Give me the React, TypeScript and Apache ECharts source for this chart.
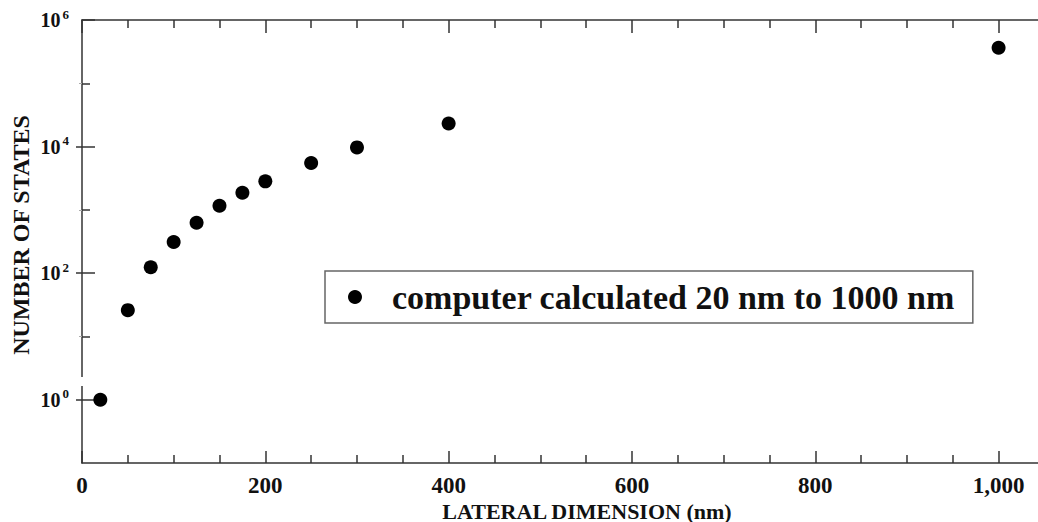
import React, { useEffect, useRef } from "react";
import * as echarts from "echarts";

const lateralNm = [20, 50, 75, 100, 125, 150, 175, 200, 250, 300, 400, 1000];
const numberOfStates = [1, 26, 124, 310, 625, 1160, 1860, 2820, 5500, 9700, 23200, 364000];
const xMajorTicks = [0, 200, 400, 600, 800, 1000];
const xMinorTicks = [50, 100, 150, 250, 300, 350, 450, 500, 550, 650, 700, 750, 850, 900, 950];
const yMajorTicks = [1, 100, 10000, 1000000];
const yMinorTicks = [10, 1000, 100000];
const yRightMajor = [1, 100, 10000];
const seriesName = "computer calculated 20 nm to 1000 nm";
const xAxisTitle = "LATERAL DIMENSION (nm)";
const yAxisTitle = "NUMBER OF STATES";

const FONT = "Liberation Serif";
const INK = "#111";
const AXIS = "#333";

export default function App() {
  const ref = useRef<HTMLDivElement>(null);
  useEffect(() => {
    if (!ref.current) return;
    const chart = echarts.init(ref.current, null, { renderer: "svg" });
    const xBase = {
      type: "value",
      min: 0,
      max: 1043,
      gridIndex: 0,
      splitLine: { show: false },
    };
    const yBase = {
      type: "log",
      logBase: 10,
      min: 0.1,
      max: 1000000,
      gridIndex: 0,
      splitLine: { show: false },
    };
    const line = { show: true, lineStyle: { color: AXIS, width: 1.5 } };
    const noLine = { show: false };
    const noLabel = { show: false };
    chart.setOption({
      animation: false,
      backgroundColor: "#fff",
      textStyle: { fontFamily: FONT, fontWeight: "bold", color: INK },
      grid: { left: 82, right: 0, top: 20, bottom: 59, containLabel: false },
      xAxis: [
        {
          ...xBase,
          position: "bottom",
          axisLine: line,
          axisTick: { show: true, inside: true, length: 12, customValues: xMajorTicks, lineStyle: { color: AXIS, width: 1.5 } },
          axisLabel: {
            show: true,
            customValues: xMajorTicks,
            margin: 11,
            formatter: (v: number) => `{t|${v.toLocaleString("en-US")}}`,
            rich: {
              t: { fontSize: 23, fontFamily: FONT, fontWeight: "bold", color: INK },
            },
          },
        },
        {
          ...xBase,
          position: "bottom",
          axisLine: noLine,
          axisTick: { show: true, inside: true, length: 8, customValues: xMinorTicks, lineStyle: { color: AXIS, width: 1.5 } },
          axisLabel: noLabel,
        },
        {
          ...xBase,
          position: "top",
          axisLine: line,
          axisTick: { show: true, inside: true, length: 13, customValues: xMajorTicks, lineStyle: { color: AXIS, width: 1.5 } },
          axisLabel: noLabel,
        },
        {
          ...xBase,
          position: "top",
          axisLine: noLine,
          axisTick: { show: true, inside: true, length: 8, customValues: xMinorTicks, lineStyle: { color: AXIS, width: 1.5 } },
          axisLabel: noLabel,
        },
      ],
      yAxis: [
        {
          ...yBase,
          position: "left",
          axisLine: line,
          axisTick: { show: true, inside: true, length: 13, customValues: yMajorTicks, lineStyle: { color: AXIS, width: 1.5 } },
          axisLabel: {
            show: true,
            customValues: yMajorTicks,
            margin: 13,
            formatter: (v: number) => `{b|10}{s|${Math.round(Math.log10(v))}}`,
            rich: {
              b: { fontSize: 20, fontFamily: FONT, fontWeight: "bold", color: INK },
              s: { fontSize: 13, fontFamily: FONT, fontWeight: "bold", color: INK, padding: [0, 0, 12, 2] },
            },
          },
        },
        {
          ...yBase,
          position: "left",
          axisLine: noLine,
          axisTick: { show: true, inside: true, length: 8, customValues: yMinorTicks, lineStyle: { color: AXIS, width: 1.5 } },
          axisLabel: noLabel,
        },
        {
          ...yBase,
          position: "right",
          axisLine: noLine,
          axisTick: { show: true, inside: true, length: 6, customValues: yRightMajor, lineStyle: { color: AXIS, width: 1.5 } },
          axisLabel: noLabel,
        },
        {
          ...yBase,
          position: "right",
          axisLine: noLine,
          axisTick: { show: true, inside: true, length: 3, customValues: yMinorTicks, lineStyle: { color: "#aaa", width: 1 } },
          axisLabel: noLabel,
        },
      ],
      legend: {
        show: true,
        left: 325,
        top: 271,
        orient: "horizontal",
        padding: [9, 18, 9, 23],
        borderColor: "#666",
        borderWidth: 1.5,
        backgroundColor: "#fff",
        itemWidth: 14,
        itemHeight: 14,
        icon: "circle",
        data: [seriesName],
        itemStyle: { color: "#000", opacity: 1 },
        formatter: (name: string) => `{t|${name}}`,
        textStyle: {
          fontFamily: FONT,
          fontWeight: "bold",
          color: INK,
          rich: {
            t: { fontSize: 34, lineHeight: 34, fontFamily: FONT, fontWeight: "bold", color: INK, padding: [0, 0, 0, 25] },
          },
        },
      },
      graphic: [
        {
          type: "rect",
          z: 100,
          shape: { x: 77, y: 377, width: 9, height: 9 },
          style: { fill: "#fff" },
        },
        {
          type: "text",
          z: 100,
          x: 587,
          y: 511,
          style: {
            text: xAxisTitle,
            fill: INK,
            font: `bold 22px "${FONT}"`,
            align: "center",
            verticalAlign: "middle",
          },
        },
        {
          type: "text",
          z: 100,
          x: 21,
          y: 235,
          rotation: Math.PI / 2,
          style: {
            text: yAxisTitle,
            fill: INK,
            font: `bold 24px "${FONT}"`,
            align: "center",
            verticalAlign: "middle",
          },
        },
      ],
      series: [
        {
          name: seriesName,
          type: "scatter",
          xAxisIndex: 0,
          yAxisIndex: 0,
          symbol: "circle",
          symbolSize: 14,
          itemStyle: { color: "#000", opacity: 1 },
          data: lateralNm.map((x, i) => [x, numberOfStates[i]]),
        },
      ],
    });
    return () => chart.dispose();
  }, []);
  return (
    <div
      ref={ref}
      style={{ position: "absolute", left: 0, top: 0, width: 1038, height: 522, background: "#fff" }}
    />
  );
}
